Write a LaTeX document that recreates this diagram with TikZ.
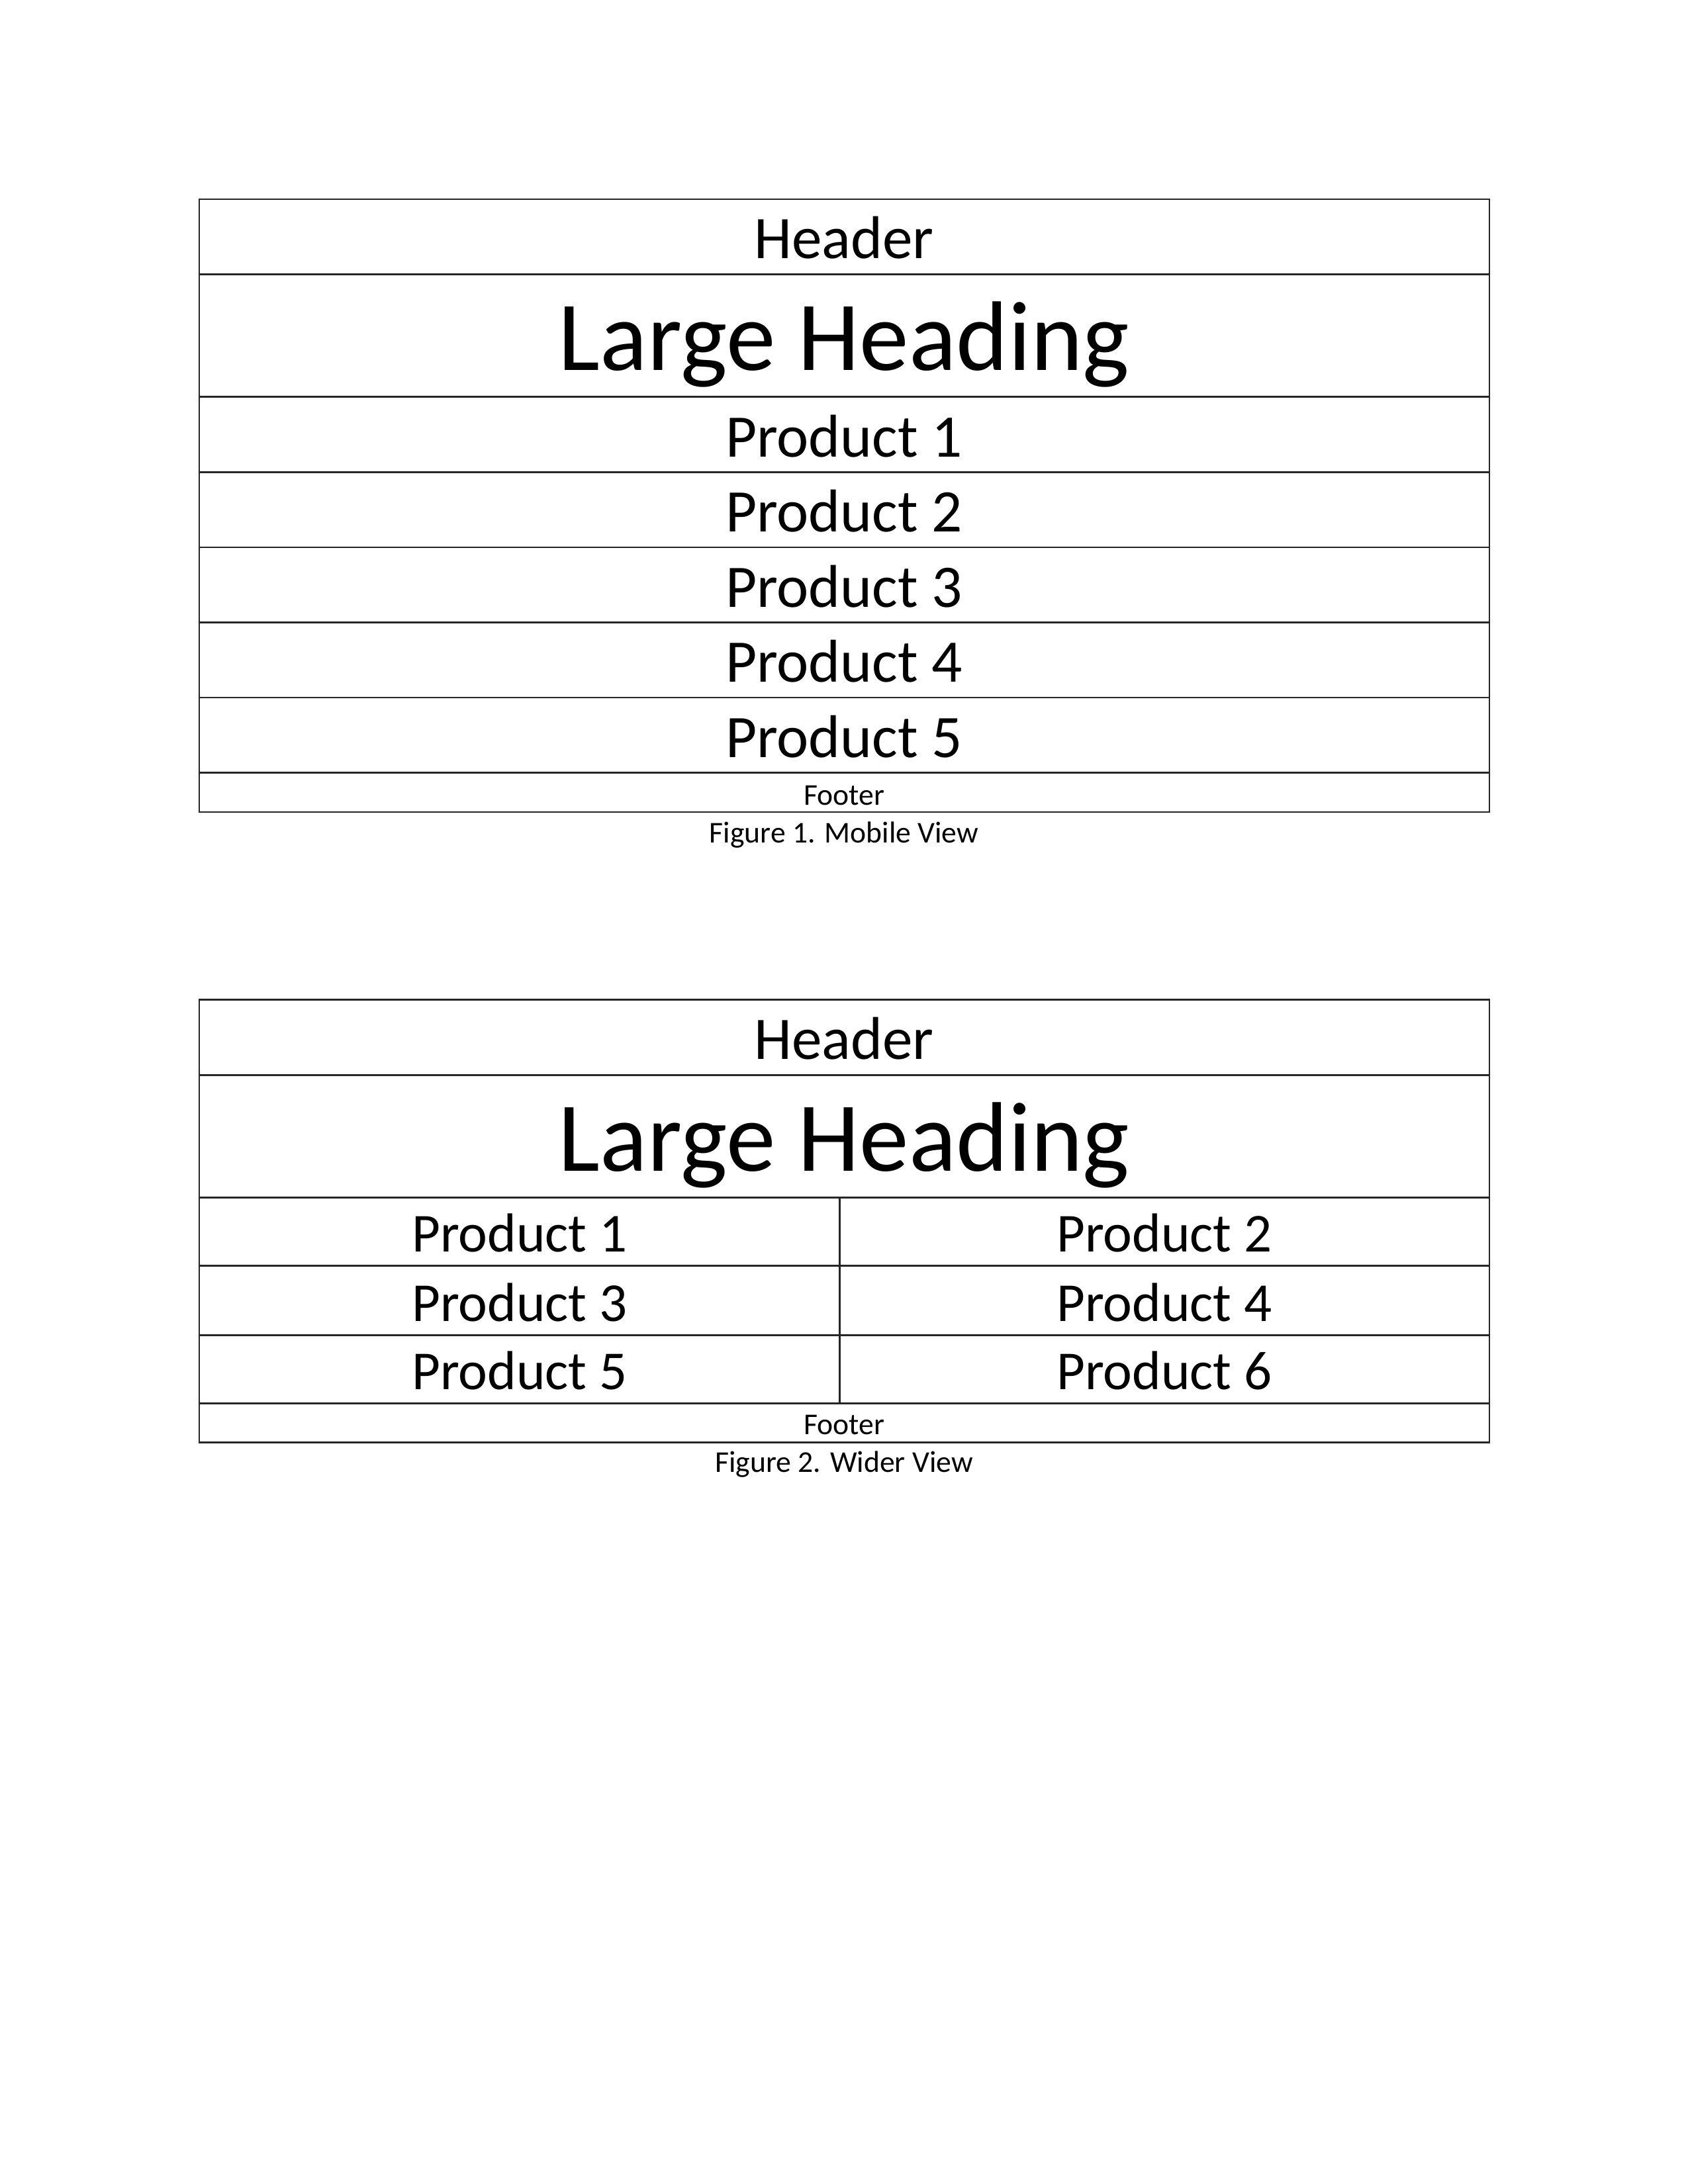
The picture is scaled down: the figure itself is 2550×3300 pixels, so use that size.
\documentclass[tikz,border=0pt]{standalone}
\usepackage{fontspec}
\setmainfont{Carlito}
\begin{document}
\begin{tikzpicture}[x=0.24090pt,y=-0.24090pt,
  rule/.style={line width=0.65pt,draw=black!85},
  mid/.style={font=\fontsize{22}{26}\selectfont,anchor=base},
  midb/.style={font=\fontsize{20}{24}\selectfont,anchor=base},
  big/.style={font=\fontsize{36}{42}\selectfont,anchor=base},
  small/.style={font=\fontsize{11}{13}\selectfont,anchor=base},
  inner sep=0pt]
\useasboundingbox (0,0) rectangle (2550,3300);
% ---------- Figure 1 ----------
\draw[rule] (301,301) rectangle (2250,1227);
\foreach \yy in {414.5,599.6,713.3,826.9,940.5,1054.1,1167.7}
  \draw[rule] (301,\yy) -- (2250,\yy);
\node[mid] (h1) at (1275,390) {Header};
\node[big] (lh1) at (1275,559) {Large Heading};
\node[mid] (a1) at (1275,690) {Product 1};
\node[mid] (a2) at (1275,803.6) {Product 2};
\node[mid] (a3) at (1275,917.2) {Product 3};
\node[mid] (a4) at (1275,1030.8) {Product 4};
\node[mid] (a5) at (1275,1144.4) {Product 5};
\node[small] (f1) at (1275,1216) {Footer};
\node[small] (c1) at (1275,1273) {Figure 1. Mobile View};
% ---------- Figure 2 ----------
\draw[rule] (301,1510.7) rectangle (2250,2179.7);
\foreach \yy in {1624.3,1809.4,1912.5,2017.7,2120.8}
  \draw[rule] (301,\yy) -- (2250,\yy);
\draw[rule] (1268.7,1809.4) -- (1268.7,2120.8);
\node[mid] (h2) at (1275,1600) {Header};
\node[big] (lh2) at (1275,1769) {Large Heading};
\node[midb] (b1) at (784.8,1891) {Product 1};
\node[midb] (b2) at (1759,1891) {Product 2};
\node[midb] (b3) at (784.8,1996) {Product 3};
\node[midb] (b4) at (1759,1996) {Product 4};
\node[midb] (b5) at (784.8,2099) {Product 5};
\node[midb] (b6) at (1759,2099) {Product 6};
\node[small] (f2) at (1275,2167) {Footer};
\node[small] (c2) at (1275,2224) {Figure 2. Wider View};
\end{tikzpicture}
\end{document}
